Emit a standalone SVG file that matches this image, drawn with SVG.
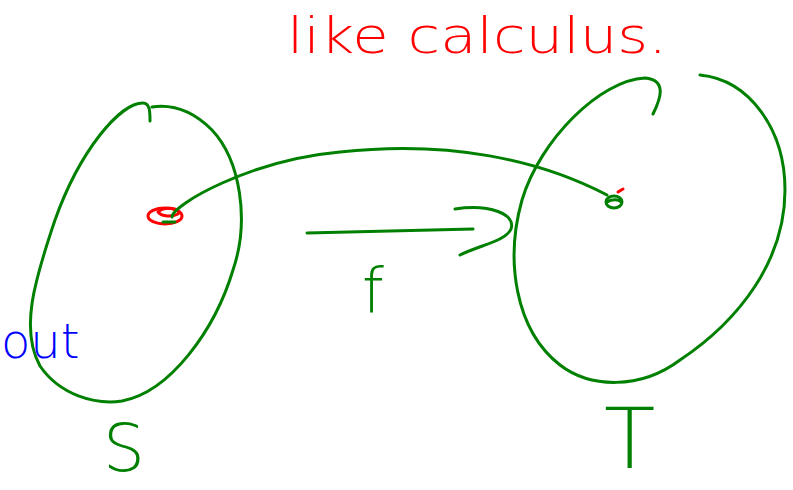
<svg xmlns="http://www.w3.org/2000/svg" width="793" height="490" viewBox="0 0 793 490">
  <style>
    .g { fill: none; stroke: #008000; stroke-width: 3; stroke-linecap: round; stroke-linejoin: round; }
    .r { fill: none; stroke: #ff0000; stroke-width: 3; stroke-linecap: round; }
    .hand { font-family: "DejaVu Sans", "Liberation Sans", sans-serif; font-weight: 200; }
    .gt { fill: #008000; }
    .rt { fill: #ff0000; }
    .bt { fill: #0000ff; }
  </style>
  <rect width="793" height="490" fill="#ffffff"/>

  <text class="hand rt" x="287" y="53" font-size="50" textLength="380" lengthAdjust="spacingAndGlyphs">like calculus.</text>

  <g id="node-S">
    <path class="g" d="M150,121 C150,112 150,103 143,103 C120,103 80,150 55,220 C34,282 20,330 40,366 C60,395 95,405 122,401 C170,392 215,330 233,270 C250,220 240,160 212,130 C192,110 172,104 152,107"/>
    <text class="hand gt" x="103" y="471" font-size="66">S</text>
  </g>

  <g id="node-T">
    <path class="g" d="M653,114 C660,100 668,80 645,78 C600,80 540,140 522,200 C505,260 515,330 560,365 C590,388 640,390 680,360 C740,320 785,260 785,190 C785,130 750,80 700,75"/>
    <text class="hand gt" x="604" y="468" font-size="84">T</text>
  </g>

  <g id="point-s">
    <ellipse class="r" cx="165" cy="216" rx="17" ry="8"/>
    <path class="r" d="M158,212 C165,206 182,208 178,214 C172,217 162,217 158,212"/>
    <path class="g" d="M163,222 L175,222"/>
  </g>

  <g id="point-t">
    <ellipse class="g" cx="614" cy="202" rx="8" ry="6"/>
    <path class="g" d="M607,202 C612,199 619,199 621,202"/>
    <path d="M618,192 L623,189" stroke="#ff0000" stroke-width="3" stroke-linecap="round"/>
  </g>

  <g id="connectors">
    <path class="g" d="M172,217 C172,205 250,160 340,152 C450,140 540,160 607,195"/>
    <path class="g" d="M307,233 L473,229"/>
    <path class="g" d="M455,209 C490,204 516,214 511,229 C506,241 480,245 460,255"/>
  </g>

  <text class="hand gt" x="362" y="312" font-size="62">f</text>

  <text class="hand bt" x="1" y="358" font-size="48">out</text>
</svg>
